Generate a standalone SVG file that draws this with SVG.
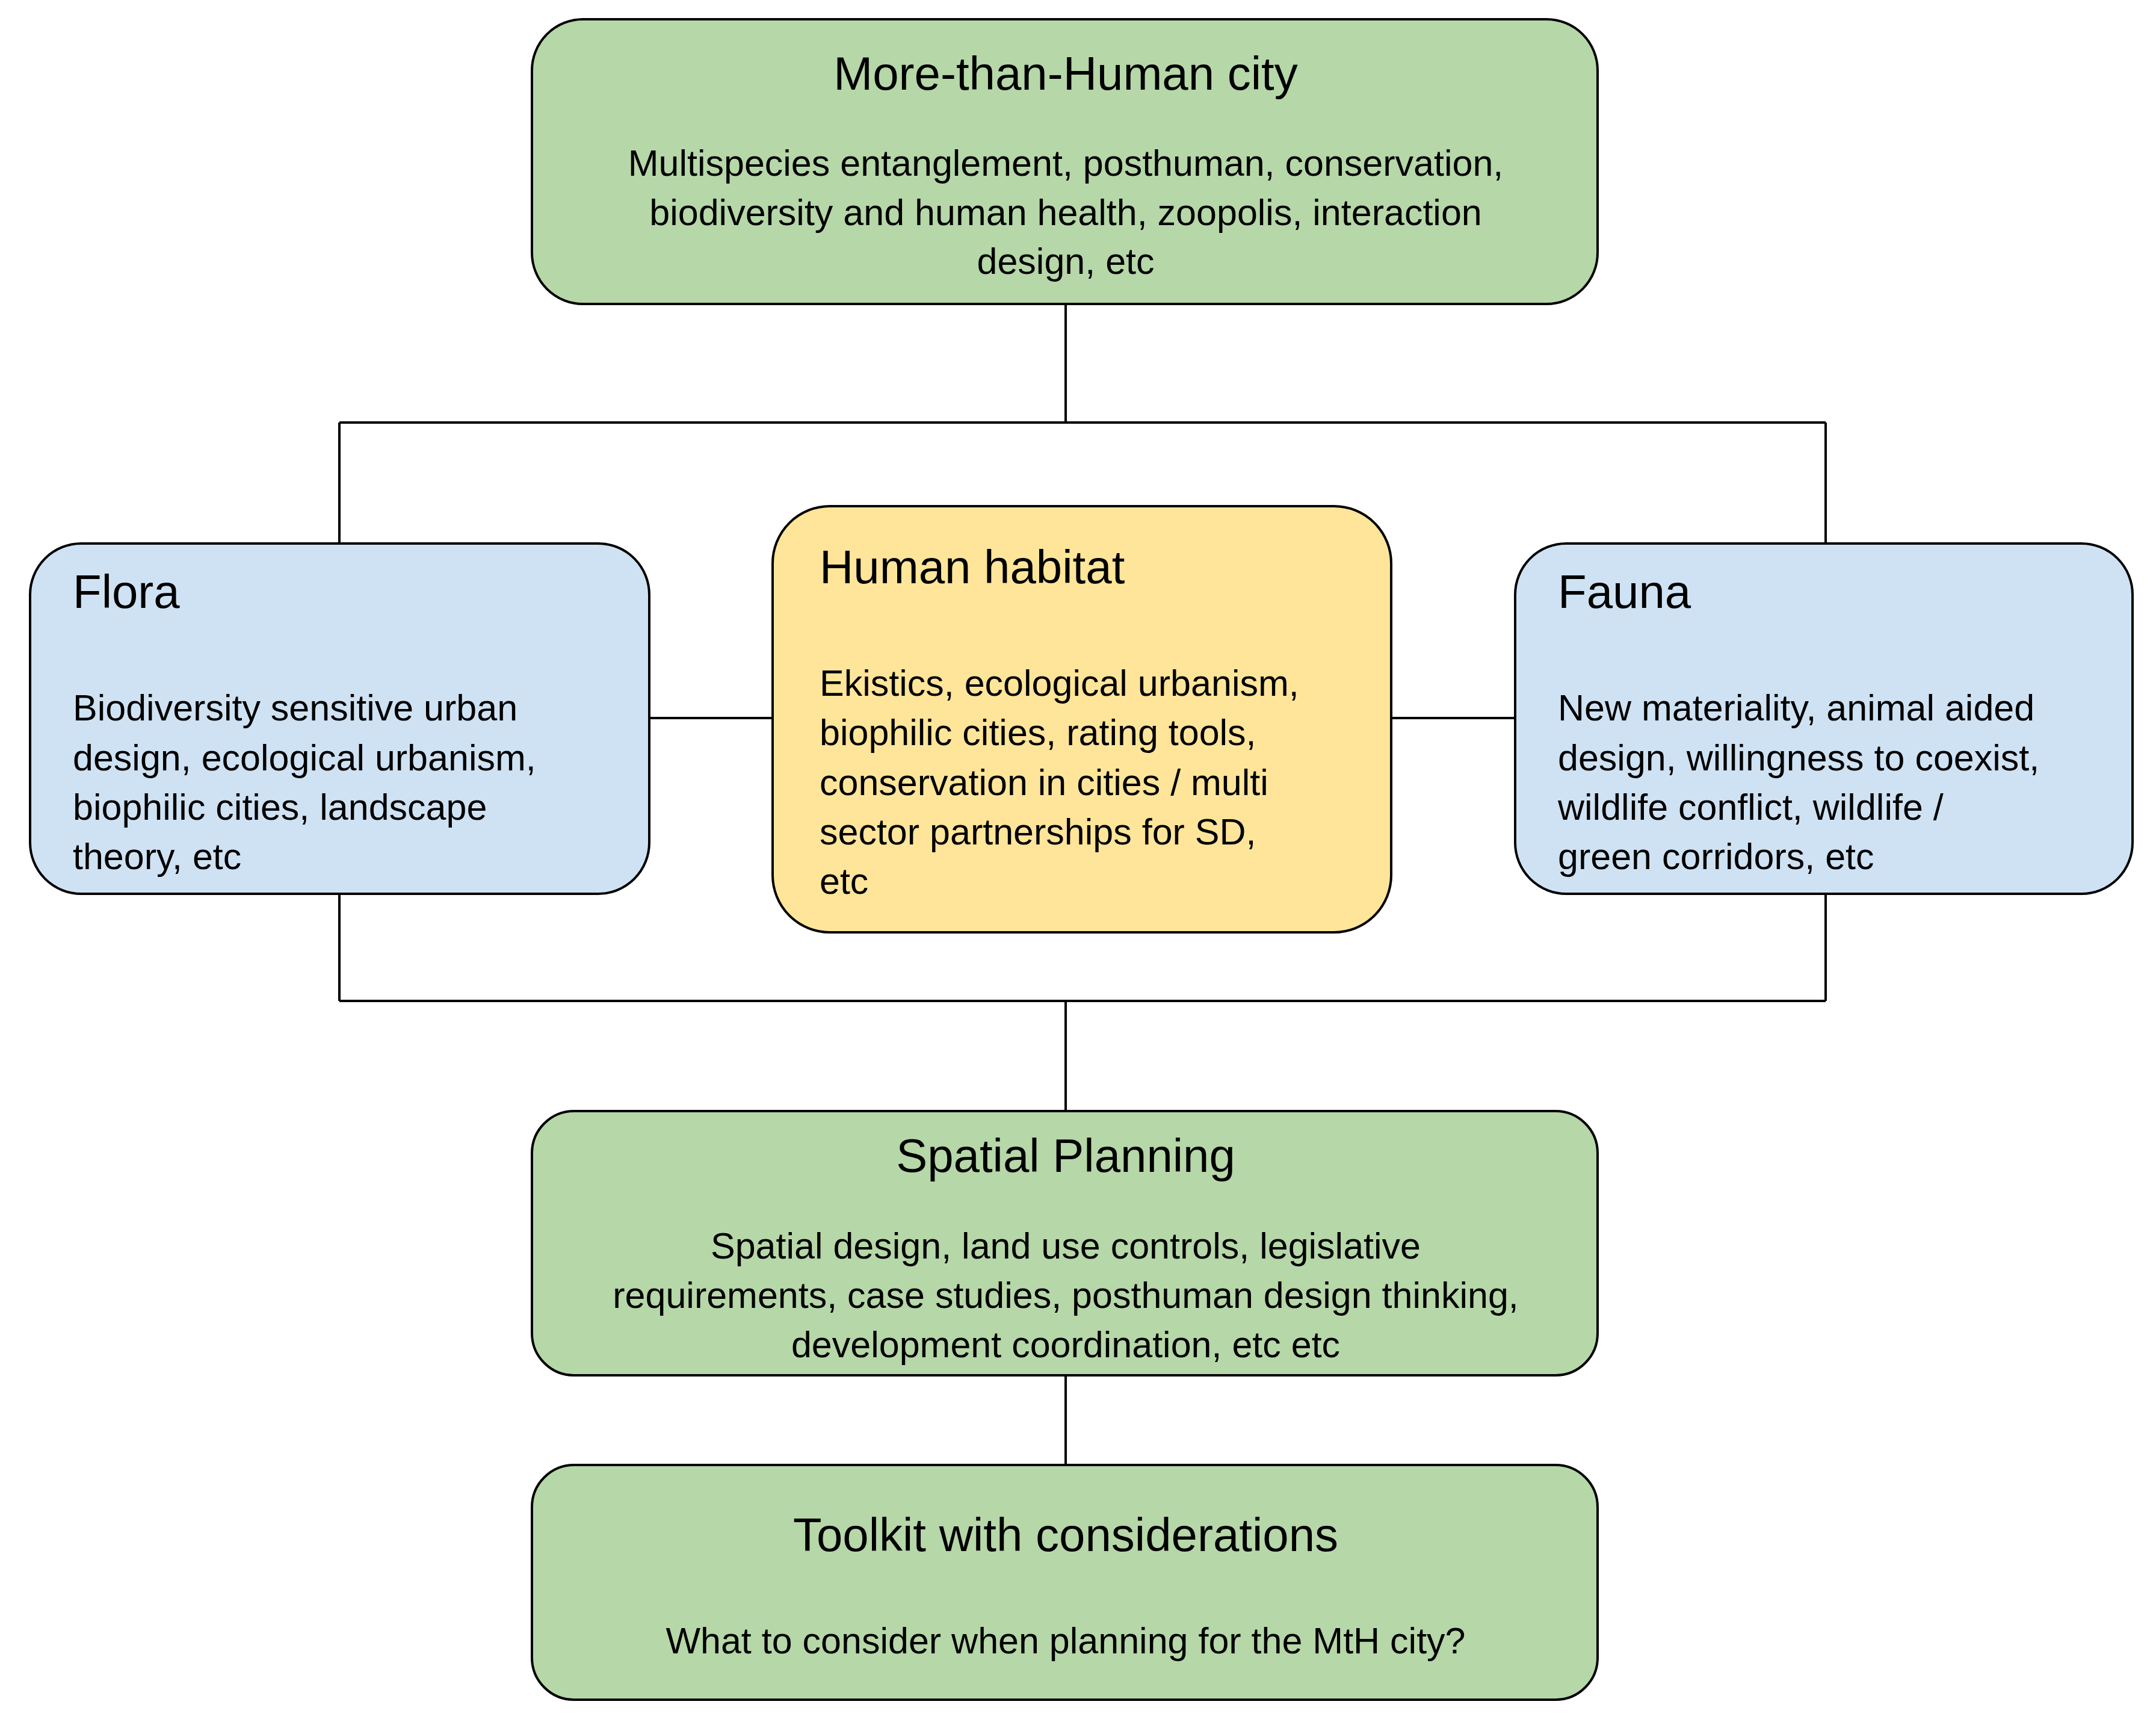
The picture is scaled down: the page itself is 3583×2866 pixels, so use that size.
<svg xmlns="http://www.w3.org/2000/svg" width="3583" height="2866" viewBox="0 0 3583 2866">
<style>
.g{fill:#b6d7a8}.b{fill:#cfe2f3}.y{fill:#ffe599}
.box{stroke:#000;stroke-width:4}
.t{font-family:"Liberation Sans",Arial,sans-serif;font-size:78px;fill:#000}
.s{font-family:"Liberation Sans",Arial,sans-serif;font-size:61px;fill:#000}
.c{stroke:#000;stroke-width:4;fill:none}
</style>
<rect width="3583" height="2866" fill="#fff"/>
<g id="connectors">
<path class="c" d="M1771 505V702M564 702H3034M564 702V903M3034 702V903"/>
<path class="c" d="M1079 1193H1284M2312 1193H2518"/>
<path class="c" d="M564 1485V1663M3034 1485V1663M564 1663H3034M1771 1663V1846"/>
<path class="c" d="M1771 2285V2434"/>
</g>
<g id="mth">
<rect class="box g" x="884" y="32" width="1771" height="473" rx="85"/>
<text class="t" x="1771" y="149" text-anchor="middle">More-than-Human city</text>
<text class="s" text-anchor="middle"><tspan x="1771" y="292">Multispecies entanglement, posthuman, conservation,</tspan><tspan x="1771" y="374">biodiversity and human health, zoopolis, interaction</tspan><tspan x="1771" y="455">design, etc</tspan></text>
</g>
<g id="flora">
<rect class="box b" x="50" y="903" width="1029" height="582" rx="85"/>
<text class="t" x="121" y="1010">Flora</text>
<text class="s"><tspan x="121" y="1197">Biodiversity sensitive urban</tspan><tspan x="121" y="1280">design, ecological urbanism,</tspan><tspan x="121" y="1362">biophilic cities, landscape</tspan><tspan x="121" y="1444">theory, etc</tspan></text>
</g>
<g id="habitat">
<rect class="box y" x="1284" y="841" width="1028" height="708" rx="95"/>
<text class="t" x="1362" y="969">Human habitat</text>
<text class="s"><tspan x="1362" y="1156">Ekistics, ecological urbanism,</tspan><tspan x="1362" y="1238">biophilic cities, rating tools,</tspan><tspan x="1362" y="1321">conservation in cities / multi</tspan><tspan x="1362" y="1403">sector partnerships for SD,</tspan><tspan x="1362" y="1485">etc</tspan></text>
</g>
<g id="fauna">
<rect class="box b" x="2518" y="903" width="1026" height="582" rx="85"/>
<text class="t" x="2589" y="1010">Fauna</text>
<text class="s"><tspan x="2589" y="1197">New materiality, animal aided</tspan><tspan x="2589" y="1280">design, willingness to coexist,</tspan><tspan x="2589" y="1362">wildlife conflict, wildlife /</tspan><tspan x="2589" y="1444">green corridors, etc</tspan></text>
</g>
<g id="spatial">
<rect class="box g" x="884" y="1846" width="1771" height="439" rx="70"/>
<text class="t" x="1771" y="1947" text-anchor="middle">Spatial Planning</text>
<text class="s" text-anchor="middle"><tspan x="1771" y="2091">Spatial design, land use controls, legislative</tspan><tspan x="1771" y="2173">requirements, case studies, posthuman design thinking,</tspan><tspan x="1771" y="2255">development coordination, etc etc</tspan></text>
</g>
<g id="toolkit">
<rect class="box g" x="884" y="2434" width="1771" height="390" rx="70"/>
<text class="t" x="1771" y="2577" text-anchor="middle">Toolkit with considerations</text>
<text class="s" x="1771" y="2747" text-anchor="middle">What to consider when planning for the MtH city?</text>
</g>
</svg>
